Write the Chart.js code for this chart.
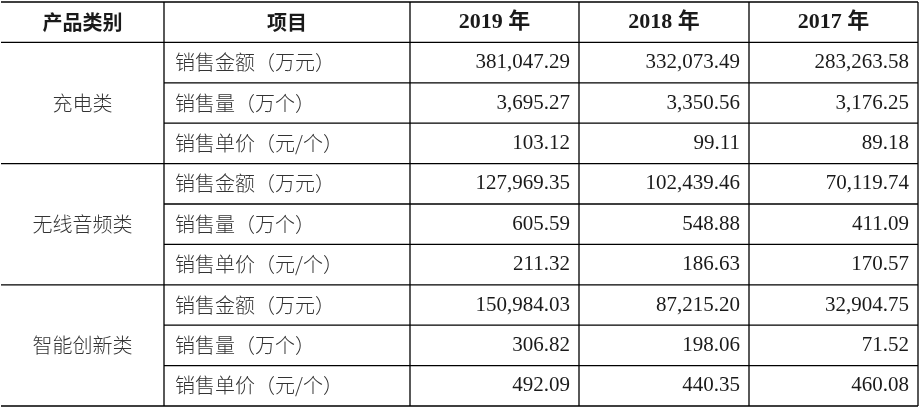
<!DOCTYPE html>
<html>
<head>
<meta charset="utf-8">
<script src="https://cdn.jsdelivr.net/npm/chart.js@4"></script>
<style>
html, body { margin: 0; padding: 0; background: #fff; }
#wrap { width: 919px; height: 407px; }
</style>
</head>
<body>
<div id="wrap"><canvas id="tbl"></canvas></div>
<script>
var headers = ["产品类别", "项目", "2019 年", "2018 年", "2017 年"];
var categories = ["充电类", "无线音频类", "智能创新类"];
var items = ["销售金额（万元）", "销售量（万个）", "销售单价（元/个）"];
var years = ["2019", "2018", "2017"];
var values2019 = [381047.29, 3695.27, 103.12, 127969.35, 605.59, 211.32, 150984.03, 306.82, 492.09];
var values2018 = [332073.49, 3350.56, 99.11, 102439.46, 548.88, 186.63, 87215.2, 198.06, 440.35];
var values2017 = [283263.58, 3176.25, 89.18, 70119.74, 411.09, 170.57, 32904.75, 71.52, 460.08];

// layout (x scale units = column edges, y scale units = rows)
var colEdges = [0, 163, 409, 578, 748, 917];
var rowCount = 10;

function fmt(v) {
	return v.toLocaleString("en-US", { minimumFractionDigits: 2, maximumFractionDigits: 2 });
}

var series = [values2019, values2018, values2017];
var cells = [];
series.forEach(function (vals, c) {
	vals.forEach(function (v, r) {
		cells.push({ x: colEdges[c + 3] - 9, y: r + 1.5, text: fmt(v) });
	});
});

var tablePlugin = {
	id: "tablePlugin",
	afterDatasetsDraw: function (chart) {
		var ctx = chart.ctx,
			xs = chart.scales.x,
			ys = chart.scales.y;
		var X = function (v) { return xs.getPixelForValue(v); };
		var Y = function (v) { return ys.getPixelForValue(v); };
		ctx.save();
		ctx.strokeStyle = "#000";
		ctx.lineWidth = 1.3;
		ctx.beginPath();
		// horizontal lines
		for (var r = 0; r <= rowCount; r++) {
			var isGroup = r <= 1 || (r - 1) % 3 === 0;
			ctx.moveTo(X(isGroup ? colEdges[0] : colEdges[1]), Y(r));
			ctx.lineTo(X(colEdges[5]), Y(r));
		}
		// vertical lines
		for (var c = 1; c < colEdges.length; c++) {
			ctx.moveTo(X(colEdges[c]), Y(0));
			ctx.lineTo(X(colEdges[c]), Y(rowCount));
		}
		ctx.stroke();

		ctx.fillStyle = "#1a1a1a";
		ctx.textBaseline = "middle";
		ctx.textAlign = "center";
		// header
		headers.forEach(function (h, i) {
			ctx.font = i < 2 ? "bold 20px 'Noto Sans CJK SC'" : "bold 22px 'Liberation Serif', 'Noto Sans CJK SC'";
			ctx.fillText(h, X((colEdges[i] + colEdges[i + 1]) / 2), Y(0.5));
		});
		// categories
		ctx.fillStyle = "#333";
		ctx.font = "300 20px 'Noto Sans CJK SC'";
		categories.forEach(function (cat, i) {
			ctx.fillText(cat, X((colEdges[0] + colEdges[1]) / 2), Y(1 + i * 3 + 1.5));
		});
		// items
		ctx.textAlign = "left";
		for (var k = 0; k < 9; k++) {
			ctx.fillText(items[k % 3], X(colEdges[1] + 11), Y(k + 1.5));
		}
		// values
		ctx.fillStyle = "#1a1a1a";
		ctx.textAlign = "right";
		ctx.font = "21px 'Liberation Serif'";
		var pts = chart.getDatasetMeta(0).data;
		pts.forEach(function (p, i) {
			ctx.fillText(cells[i].text, p.x, p.y);
		});
		ctx.restore();
	}
};

new Chart(document.getElementById("tbl"), {
	type: "scatter",
	data: {
		datasets: [{ label: "values", data: cells, pointRadius: 0, pointHoverRadius: 0 }]
	},
	options: {
		responsive: true,
		maintainAspectRatio: false,
		animation: false,
		layout: { padding: { top: 2, bottom: 1, left: 1, right: 1 } },
		plugins: { legend: { display: false }, tooltip: { enabled: false } },
		scales: {
			x: { type: "linear", min: 0, max: 917, display: false },
			y: { type: "linear", min: 0, max: rowCount, reverse: true, display: false }
		}
	},
	plugins: [tablePlugin]
});
</script>
</body>
</html>
